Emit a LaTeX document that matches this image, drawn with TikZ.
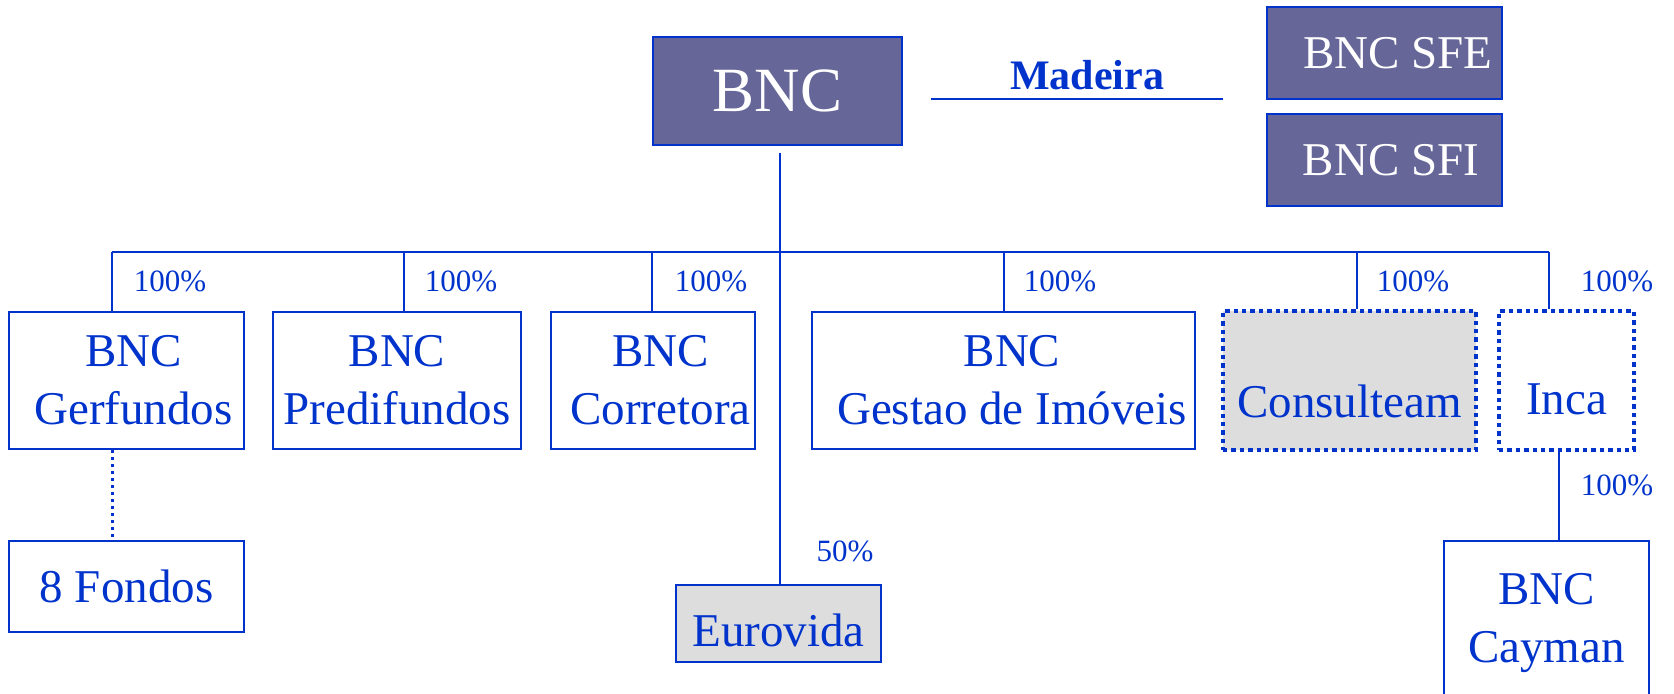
\documentclass[tikz,border=0pt]{standalone}
\usepackage{fontspec}
\setmainfont{Liberation Serif}
\usepackage{tikz}
\definecolor{bncblue}{HTML}{0033CC}
\definecolor{bncpurple}{HTML}{666699}
\definecolor{bncgrey}{HTML}{DDDDDD}

\begin{document}
\begin{tikzpicture}[x=0.5pt,y=-0.5pt,
    firm/.style={draw=bncblue,line width=1pt,text=bncblue,align=center,inner sep=0pt,
      font=\fontsize{23.5}{29}\selectfont},
    mother/.style={firm,fill=bncpurple,text=white},
    shared/.style={firm,fill=bncgrey},
    loose/.style={firm,line width=2.4pt,dash pattern=on 2.2pt off 2pt},
    pct/.style={text=bncblue,inner sep=0pt,font=\fontsize{15.5}{18}\selectfont},
    link/.style={draw=bncblue,line width=1pt},
    dotlink/.style={link,line width=1.5pt,dash pattern=on 1.5pt off 2pt}]
      \useasboundingbox (0,0) rectangle (1674,693);
      \clip (0,0) rectangle (1674,693);

      % top row
      \node[mother,minimum width=124.5pt,minimum height=54pt,font=\fontsize{31.5}{36}\selectfont]
        (bnc) at (777.5,91) {BNC};
      \node[mother,minimum width=117.5pt,minimum height=46pt] (sfe) at (1384.5,53) {\hspace*{13.5pt}BNC SFE};
      \node[mother,minimum width=117.5pt,minimum height=46pt] (sfi) at (1384.5,160) {\hspace*{6.5pt}BNC SFI};
      \node[text=bncblue,inner sep=0pt,anchor=base,font=\fontsize{21}{24}\bfseries] (mad) at (1087,89) {Madeira};
      \coordinate (mad-l) at (931,99);
      \coordinate (mad-r) at (1223,99);
      \draw[link] (mad-l) -- (mad-r);

      % second row
      \node[firm,minimum width=117.5pt,minimum height=68.5pt] (ger) at (126.5,380.5)
        {\hspace*{7pt}BNC\\\hspace*{7pt}Gerfundos};
      \node[firm,minimum width=124pt,minimum height=68.5pt] (pred) at (397,380.5) {BNC\\Predifundos};
      \node[firm,minimum width=102pt,minimum height=68.5pt] (corr) at (653,380.5)
        {\hspace*{7.5pt}BNC\\\hspace*{7.5pt}Corretora};
      \node[firm,minimum width=191.5pt,minimum height=68.5pt] (gest) at (1003.5,380.5)
        {\hspace*{8.5pt}BNC\\\hspace*{8.5pt}Gestao de Imóveis};
      \node[loose,fill=bncgrey,minimum width=126.5pt,minimum height=69.5pt,text height=37.5pt]
        (cons) at (1349.5,380.5) {Consulteam};
      \node[loose,minimum width=67.5pt,minimum height=69.5pt,text height=34.5pt]
        (inca) at (1566.5,380.5) {Inca};

      % third row
      \node[firm,minimum width=117.5pt,minimum height=45.5pt] (fondos) at (126.5,586.5) {8 Fondos};
      \node[shared,minimum width=102.5pt,minimum height=38.5pt,text height=23.5pt] (eur) at (778.5,623.5) {Eurovida};
      \node[firm,minimum width=102.5pt,minimum height=81.5pt] (cay) at (1546.5,622.5) {BNC\\Cayman};

      % shares
      \node[pct] (p-ger) at (170,281) {100\%};
      \node[pct] (p-pred) at (461,281) {100\%};
      \node[pct] (p-corr) at (711,281) {100\%};
      \node[pct] (p-gest) at (1060,281) {100\%};
      \node[pct] (p-cons) at (1413,281) {100\%};
      \node[pct] (p-inca) at (1617,281) {100\%};
      \node[pct] (p-eur) at (845,551) {50\%};
      \node[pct] (p-cay) at (1617,485) {100\%};

      % links
      \coordinate (top) at (780,153);
      \draw[link] (top) -- (top |- eur.north);
      \foreach \x/\n in {112/ger,404/pred,652/corr,1004/gest,1357/cons,1549/inca}{
        \coordinate (br-\n) at (\x,252);
        \draw[link] (br-\n) -- (br-\n |- \n.north);
      }
      \draw[link] (br-ger) -- (br-inca);
      \draw[dotlink] (br-ger |- ger.south) -- (br-ger |- fondos.north);
      \coordinate (ic) at (1559,0);
      \draw[link] (ic |- inca.south) -- (ic |- cay.north);
    \end{tikzpicture}
\end{document}
